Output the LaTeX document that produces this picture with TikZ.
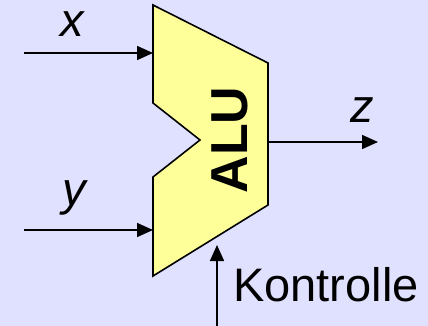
\documentclass[tikz,border=0pt]{standalone}
\usepackage{fontspec}
\setmainfont{Liberation Sans}
\usetikzlibrary{arrows.meta}
\definecolor{bgc}{HTML}{E0E0FF}
\definecolor{alufill}{HTML}{FFFF99}
\tikzset{
  sig/.style={line width=1.6pt, -{Triangle[length=16pt,width=14pt]}},
  lbl/.style={font=\fontsize{47}{52}\selectfont\itshape, inner sep=0pt},
}
\begin{document}
\begin{tikzpicture}[x=1pt,y=-1pt]
\fill[bgc] (0,0) rectangle (428,326);
\useasboundingbox (0,0) rectangle (428,326);
% ALU body
\draw[fill=alufill, line width=1.6pt, line join=miter]
  (153,5) -- (268,63) -- (268,205) -- (153,276) -- (153,177) -- (200,140) -- (153,103) -- cycle;
\node[font=\fontsize{52}{56}\selectfont\bfseries, rotate=90, anchor=base, inner sep=0pt] (alu) at (247,140) {ALU};
% connection points
\coordinate (xin) at (24,53);
\coordinate (xend) at (153,53);
\coordinate (yin) at (24,230);
\coordinate (yend) at (153,230);
\coordinate (zstart) at (268,142);
\coordinate (zout) at (378,142);
\coordinate (kin) at (217,326);
\coordinate (kend) at (217,245);
\draw[sig] (xin) -- (xend);
\draw[sig] (yin) -- (yend);
\draw[sig] (zstart) -- (zout);
\draw[sig] (kin) -- (kend);
% labels
\node[lbl, anchor=base] (xl) at (72,37) {x};
\node[lbl, anchor=base] (yl) at (74,205) {y};
\node[lbl, anchor=base] (zl) at (362,123) {z};
\node[font=\fontsize{47}{52}\selectfont, anchor=base west, inner sep=0pt] (kl) at (233,301) {Kontrolle};
\end{tikzpicture}
\end{document}
